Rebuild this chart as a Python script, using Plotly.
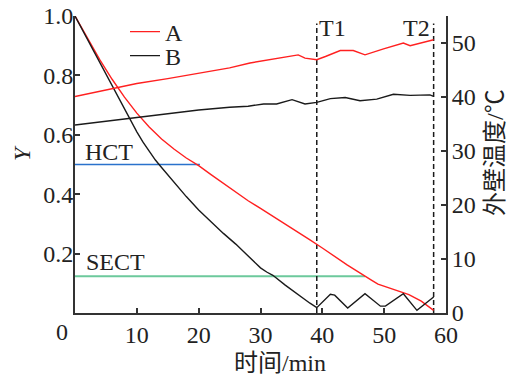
import plotly.graph_objects as go

# ---- data ----
x_yA = [0, 2, 4, 6, 8, 10, 12, 14, 16, 18, 20, 22, 24, 26, 28, 30, 32, 34, 36, 38, 40, 42, 44, 46, 47, 48, 49, 50, 52, 54, 56, 57, 58]
yA = [1.0, 0.925, 0.853, 0.787, 0.727, 0.673, 0.626, 0.586, 0.552, 0.522, 0.496, 0.466, 0.436, 0.406, 0.378, 0.352, 0.326, 0.30, 0.273, 0.246, 0.219, 0.19, 0.162, 0.136, 0.124, 0.11, 0.097, 0.09, 0.077, 0.062, 0.04, 0.025, 0.009]

x_yB = [0, 2, 4, 6, 8, 9, 10, 11, 12, 13, 14, 16, 18, 20, 22, 24, 26, 28, 30, 31, 32, 34, 36, 38, 39.1, 41.3, 42, 44.1, 46.9, 49.4, 50.2, 53.1, 55.3, 58]
yB = [1.0, 0.921, 0.842, 0.763, 0.684, 0.646, 0.61, 0.575, 0.543, 0.515, 0.49, 0.44, 0.392, 0.347, 0.307, 0.268, 0.232, 0.192, 0.152, 0.138, 0.127, 0.094, 0.062, 0.033, 0.018, 0.063, 0.06, 0.017, 0.065, 0.023, 0.023, 0.065, 0.009, 0.054]

x_tA = [0, 5, 10, 15, 20, 25, 28.3, 30.7, 33, 36.1, 37.2, 39.1, 40.5, 42.9, 45, 46.9, 49.9, 53.1, 54.2, 58]
tA = [40.1, 41.3, 42.5, 43.4, 44.4, 45.4, 46.3, 46.8, 47.2, 47.8, 47.2, 46.9, 47.5, 48.6, 48.6, 47.8, 48.9, 50.0, 49.5, 50.6]

x_tB = [0, 5, 10, 15, 20, 25, 28, 30.5, 32.6, 35.1, 37.2, 39.1, 41.3, 43.7, 46.1, 48.8, 51.5, 54.2, 57.4, 58]
tB = [34.8, 35.5, 36.3, 37.0, 37.6, 38.1, 38.3, 38.7, 38.7, 39.5, 38.7, 39.0, 39.7, 39.9, 39.3, 39.6, 40.5, 40.3, 40.4, 40.1]

hct_level, hct_end = 0.5, 20.2
sect_level, sect_end = 0.124, 46.9
t_marks = [39.1, 58.0]
t_labels = ["T1", "T2"]

x_ticks = [10, 20, 30, 40, 50, 60]
y_ticks = [0.2, 0.4, 0.6, 0.8, 1.0]
y2_ticks = [0, 10, 20, 30, 40, 50]

RED = "#ff2020"
BLACK = "#1a1a1a"
BLUE = "#2a72cc"
GREEN = "#6cc99c"
AX = "#333333"
FONT = "Liberation Serif, Noto Sans CJK SC, serif"
FS = 24

fig = go.Figure()

fig.add_trace(go.Scatter(x=[0, hct_end], y=[hct_level, hct_level], mode="lines",
                         line=dict(color=BLUE, width=1.5), showlegend=False))
fig.add_trace(go.Scatter(x=[0, sect_end], y=[sect_level, sect_level], mode="lines",
                         line=dict(color=GREEN, width=2), showlegend=False))
for tm in t_marks:
    fig.add_trace(go.Scatter(x=[tm, tm], y=[0, 0.975], mode="lines",
                             line=dict(color=BLACK, width=1.5, dash="5px,3px"), showlegend=False))

fig.add_trace(go.Scatter(x=x_yA, y=yA, mode="lines", line=dict(color=RED, width=1.4), showlegend=False))
fig.add_trace(go.Scatter(x=x_yB, y=yB, mode="lines", line=dict(color=BLACK, width=1.4), showlegend=False))
fig.add_trace(go.Scatter(x=x_tA, y=tA, mode="lines", name="A", line=dict(color=RED, width=1.4),
                         yaxis="y2", legend="legend"))
fig.add_trace(go.Scatter(x=x_tB, y=tB, mode="lines", name="B", line=dict(color=BLACK, width=1.4),
                         yaxis="y2", legend="legend2"))

ann = []
ann.append(dict(x=5.5, y=0.541, xref="x", yref="y", text="HCT", showarrow=False,
                xanchor="center", yanchor="middle"))
ann.append(dict(x=6.55, y=0.171, xref="x", yref="y", text="SECT", showarrow=False,
                xanchor="center", yanchor="middle"))
for tm, tl in zip(t_marks, t_labels):
    if tl == "T1":
        ann.append(dict(x=tm, y=0.958, xref="x", yref="y", text=tl, showarrow=False,
                        xanchor="left", yanchor="middle", xshift=0))
    else:
        ann.append(dict(x=tm, y=0.958, xref="x", yref="y", text=tl, showarrow=False,
                        xanchor="right", yanchor="middle", xshift=-2))
ann.append(dict(x=(62 - 75) / 371, y=(313 - 332) / 297, xref="paper", yref="paper", text="0",
                showarrow=False, xanchor="center", yanchor="middle"))
ann.append(dict(x=(22 - 75) / 371, y=(313 - 153) / 297, xref="paper", yref="paper", text="<i>Y</i>",
                showarrow=False, textangle=-90, xanchor="center", yanchor="middle"))
ann.append(dict(x=(280 - 75) / 371, y=(313 - 363) / 297, xref="paper", yref="paper", text="时间/min",
                showarrow=False, xanchor="center", yanchor="middle"))
ann.append(dict(x=(495 - 75) / 371, y=(313 - 153) / 297, xref="paper", yref="paper", text="外壁温度/℃",
                showarrow=False, textangle=-90, xanchor="center", yanchor="middle"))

axis_common = dict(ticks="inside", ticklen=5, tickwidth=1.5, tickcolor=AX, showline=True, linecolor=AX,
                   linewidth=2, showgrid=False, zeroline=False, automargin=False)

fig.update_layout(
    width=516, height=379,
    margin=dict(l=75, r=70, t=16, b=66, pad=0, autoexpand=False),
    paper_bgcolor="white", plot_bgcolor="white",
    font=dict(family=FONT, size=FS, color="#222222"),
    xaxis=dict(range=[0, 60], tickvals=x_ticks, ticklabelstandoff=-1, **axis_common),
    yaxis=dict(range=[0, 1.0], tickvals=y_ticks, tickformat=".1f", ticklabelstandoff=-5, **axis_common),
    yaxis2=dict(range=[0, 55], tickvals=y2_ticks, overlaying="y", side="right", ticklabelstandoff=-1,
                **axis_common),
    legend=dict(x=(125 - 75) / 371, y=(313 - 32) / 297, xanchor="left", yanchor="middle",
                bgcolor="rgba(0,0,0,0)", font=dict(size=FS), itemwidth=30),
    legend2=dict(x=(125 - 75) / 371, y=(313 - 56) / 297, xanchor="left", yanchor="middle",
                 bgcolor="rgba(0,0,0,0)", font=dict(size=FS), itemwidth=30),
    annotations=ann,
)

fig.write_html("out.html")
